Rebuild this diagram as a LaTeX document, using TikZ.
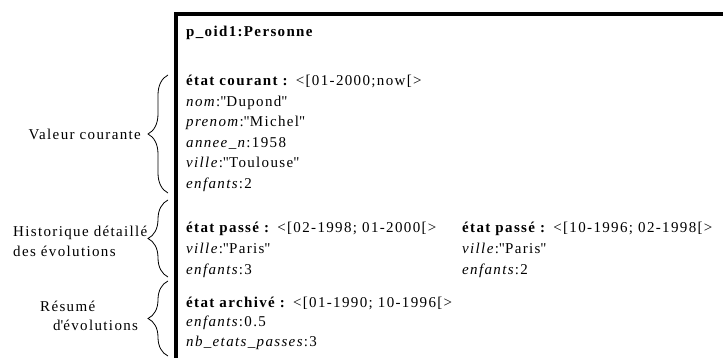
\documentclass[tikz,border=0pt]{standalone}
\usepackage{fontspec}
\setmainfont{Liberation Serif}[LetterSpace=9]
\usetikzlibrary{decorations.pathreplacing}

\newcommand{\q}[1]{\textquotedbl#1\textquotedbl}

\begin{document}
\begin{tikzpicture}[
    x=1pt, y=-1pt,
    every node/.style={inner sep=0pt, anchor=base west, font=\fontsize{15}{18}\selectfont},
    cadre/.style={line width=4pt},
    accolade/.style={decorate, decoration={brace, amplitude=20pt}, line width=0.8pt}]

\clip (0,0) rectangle (723,358);

% objet
\draw[cadre] (175.5,380) |- (740,14.5);

\node (titre) at (186,36.5) {\textbf{p\_oid1:Personne}};

% etat courant
\node (courant) at (186,86) {\textbf{état courant :} <[01-2000;now[>};
\node (nom) at (186,106.5) {\textit{nom}:\q{Dupond}};
\node (prenom) at (186,127) {\textit{prenom}:\q{Michel}};
\node (annee) at (186,147.5) {\textit{annee\_n}:1958};
\node (ville) at (186,168) {\textit{ville}:\q{Toulouse}};
\node (enfants) at (186,188.5) {\textit{enfants}:2};

% etats passes
\node (passe1) at (186,233) {\textbf{état passé :} <[02-1998; 01-2000[>};
\node (ville1) at (186,253.5) {\textit{ville}:\q{Paris}};
\node (enfants1) at (186,274) {\textit{enfants}:3};
\node (passe2) at (462,233) {\textbf{état passé :} <[10-1996; 02-1998[>};
\node (ville2) at (462,253.5) {\textit{ville}:\q{Paris}};
\node (enfants2) at (462,274) {\textit{enfants}:2};

% etat archive
\node (archive) at (186,307) {\textbf{état archivé :} <[01-1990; 10-1996[>};
\node (enfants3) at (186,326.5) {\textit{enfants}:0.5};
\node (nbetats) at (186,346) {\textit{nb\_etats\_passes}:3};

% accolades
\coordinate (c1) at (168,193);
\coordinate (c2) at (168,75);
\coordinate (h1) at (168,277);
\coordinate (h2) at (168,200);
\coordinate (r1) at (168,356);
\coordinate (r2) at (168,281);
\draw[accolade] (c1) -- (c2);
\draw[accolade] (h1) -- (h2);
\draw[accolade] (r1) -- (r2);

\node (valeur) at (28.5,139.5) {Valeur courante};
\node (histo) at (13,236.5) {Historique détaillé};
\node (histo2) at (13,256) {des évolutions};
\node (resume) at (40,311.5) {Résumé};
\node (resume2) at (53,330.5) {d\textquotesingle évolutions};

\end{tikzpicture}
\end{document}
